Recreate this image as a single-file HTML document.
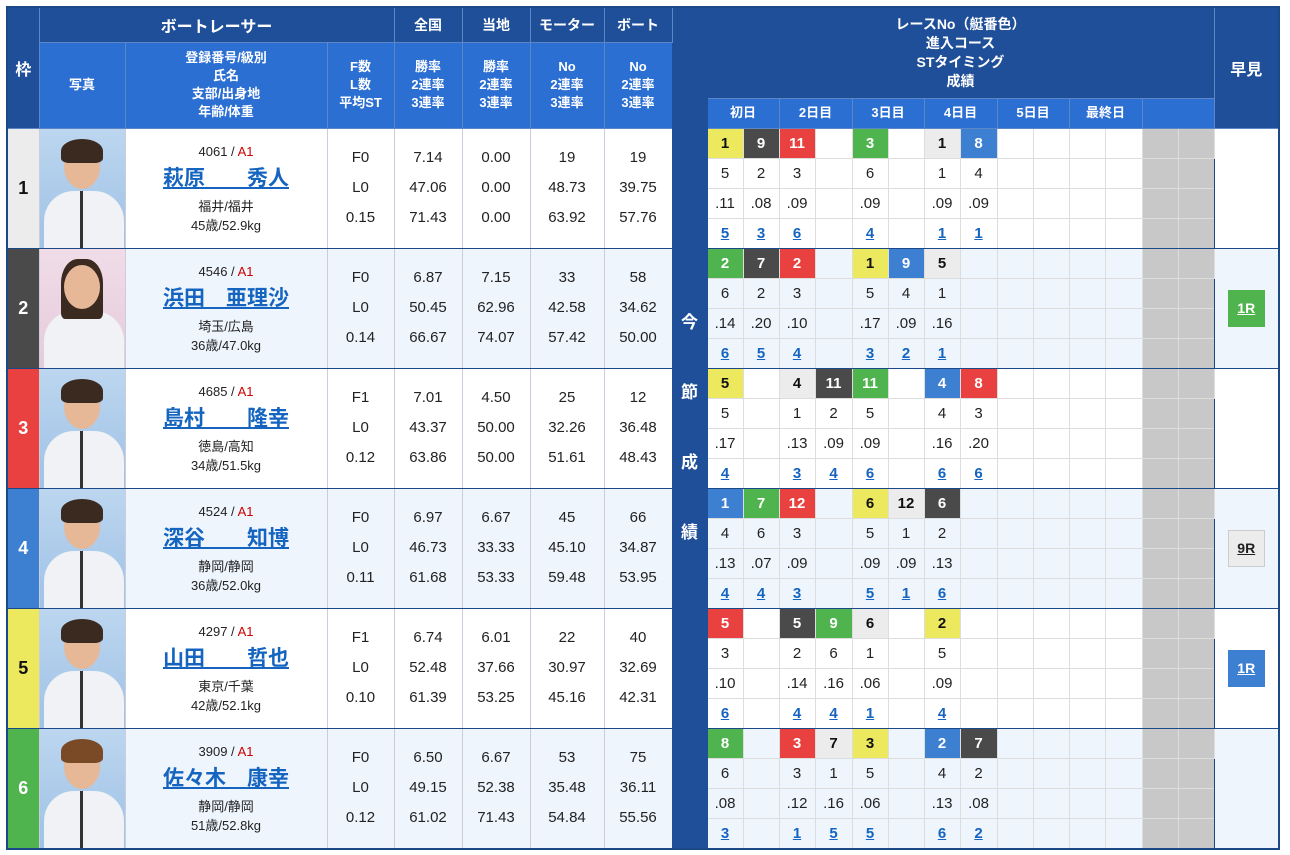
<!DOCTYPE html>
<html><head><meta charset="utf-8">
<style>
body{margin:0;background:#fff;width:1290px;height:855px;overflow:hidden;font-family:"Liberation Sans","Noto Sans CJK JP",sans-serif;}
table{position:absolute;left:6px;top:6px;border-collapse:collapse;table-layout:fixed;border:2px solid #1b4886;}
td{padding:0;text-align:center;vertical-align:middle;font-size:15px;color:#222;overflow:hidden;}
.h1{background:#1f4f98;color:#fff;font-weight:bold;font-size:16px;border:1px solid #5d86c6;}
.h2{background:#2c6fd3;color:#fff;font-weight:bold;font-size:13px;line-height:18px;border:1px solid #5d86c6;}
.sep{background:#1f4f98;color:#fff;font-weight:bold;font-size:17px;line-height:70px;padding-top:280px;vertical-align:top;border:1px solid #1f4f98;}
.f{font-size:18px;font-weight:bold;border-bottom:1px solid #1b4886;}
.ph{border-bottom:1px solid #1b4886;border-left:1px solid #ccd;}
.nm{font-size:13px;line-height:19px;border-bottom:1px solid #1b4886;border-left:1px solid #ccd;}
.nm a{display:block;font-size:21px;font-weight:bold;color:#1565c0;text-decoration:underline;line-height:32px;margin:2px 0;}
.cl{color:#c00;}
.v{line-height:30px;border-bottom:1px solid #1b4886;border-left:1px solid #ccd;}
.r td.c{border:1px solid #ddd;height:29px;}
.r td.g{background:#c8c8c8;border:1px solid #ddd;}
.e td{background:#eef5fd;}
.e td.g{background:#c8c8c8;}
.last td.c,.last td.g{border-bottom:1px solid #1b4886;}
td.hy{border-left:1px solid #1b4886;border-bottom:1px solid #1b4886;}
.k1{background:#ececec!important;color:#111;font-weight:bold;}
.k2{background:#4a4a4a!important;color:#fff;font-weight:bold;}
.k3{background:#e8413f!important;color:#fff;font-weight:bold;}
.k4{background:#3d7fd1!important;color:#fff;font-weight:bold;}
.k5{background:#ece95e!important;color:#111;font-weight:bold;}
.k6{background:#4fb44e!important;color:#fff;font-weight:bold;}
.u{color:#1565c0;font-weight:bold;text-decoration:underline;}
.badge{display:inline-block;width:37px;height:37px;line-height:37px;font-size:14px;font-weight:bold;text-decoration:underline;color:#fff;}
.photo{position:relative;width:85px;height:119px;background:linear-gradient(#bcd6ef,#9fc2e6);overflow:hidden;}
.photo .hd{position:absolute;left:24px;top:16px;width:36px;height:44px;border-radius:50%;background:#e6b898;}
.photo .hr{position:absolute;left:21px;top:10px;width:42px;height:24px;border-radius:50% 50% 20% 20%;background:#3a2a20;}
.photo .bd{position:absolute;left:4px;top:62px;width:80px;height:70px;border-radius:30px 30px 0 0;background:#f0f2f6;}
.photo .zp{position:absolute;left:40px;top:62px;width:3px;height:60px;background:#333;}
</style></head><body>
<table>
<colgroup>
<col style="width:32px"><col style="width:86px"><col style="width:202px"><col style="width:67px"><col style="width:68px"><col style="width:68px"><col style="width:74px"><col style="width:68px">
<col style="width:35px">
<col style="width:36px"><col style="width:36px"><col style="width:36px"><col style="width:37px"><col style="width:36px"><col style="width:36px"><col style="width:36px"><col style="width:37px"><col style="width:36px"><col style="width:36px"><col style="width:36px"><col style="width:37px"><col style="width:36px"><col style="width:36px">
<col style="width:65px">
</colgroup>
<tr style="height:35px">
<td class="h1" rowspan="3">枠</td>
<td class="h1" colspan="3">ボートレーサー</td>
<td class="h1" style="font-size:14px">全国</td><td class="h1" style="font-size:14px">当地</td><td class="h1" style="font-size:14px">モーター</td><td class="h1" style="font-size:14px">ボート</td>
<td class="sep" rowspan="27">今<br>節<br>成<br>績</td>
<td class="h1" colspan="14" rowspan="2" style="font-size:14px;line-height:19px">レースNo（艇番色）<br>進入コース<br>STタイミング<br>成績</td>
<td class="h1" rowspan="3">早見</td>
</tr>
<tr style="height:56px">
<td class="h2" rowspan="2">写真</td>
<td class="h2" rowspan="2">登録番号/級別<br>氏名<br>支部/出身地<br>年齢/体重</td>
<td class="h2" rowspan="2">F数<br>L数<br>平均ST</td>
<td class="h2" rowspan="2">勝率<br>2連率<br>3連率</td>
<td class="h2" rowspan="2">勝率<br>2連率<br>3連率</td>
<td class="h2" rowspan="2">No<br>2連率<br>3連率</td>
<td class="h2" rowspan="2">No<br>2連率<br>3連率</td>
</tr>
<tr style="height:30px">
<td class="h2" colspan="2">初日</td><td class="h2" colspan="2">2日目</td><td class="h2" colspan="2">3日目</td><td class="h2" colspan="2">4日目</td><td class="h2" colspan="2">5日目</td><td class="h2" colspan="2">最終日</td><td class="h2" colspan="2"></td>
</tr>

<tr class="r" style="height:30px">
<td class="f k1" rowspan="4">1</td>
<td class="ph" rowspan="4"><div class="photo"><div class="bd"></div><div class="zp"></div><div class="hd"></div><div class="hr"></div></div></td>
<td class="nm" rowspan="4">4061 / <span class="cl">A1</span><a>萩原　　秀人</a>福井/福井<br>45歳/52.9kg</td>
<td class="v" rowspan="4">F0<br>L0<br>0.15</td>
<td class="v" rowspan="4">7.14<br>47.06<br>71.43</td>
<td class="v" rowspan="4">0.00<br>0.00<br>0.00</td>
<td class="v" rowspan="4">19<br>48.73<br>63.92</td>
<td class="v" rowspan="4">19<br>39.75<br>57.76</td>
<td class="c k5">1</td><td class="c k2">9</td><td class="c k3">11</td><td class="c"></td><td class="c k6">3</td><td class="c"></td><td class="c k1">1</td><td class="c k4">8</td><td class="c"></td><td class="c"></td><td class="c"></td><td class="c"></td><td class="g"></td><td class="g"></td>
<td class="hy" rowspan="4"></td>
</tr>
<tr class="r"><td class="c">5</td><td class="c">2</td><td class="c">3</td><td class="c"></td><td class="c">6</td><td class="c"></td><td class="c">1</td><td class="c">4</td><td class="c"></td><td class="c"></td><td class="c"></td><td class="c"></td><td class="g"></td><td class="g"></td></tr>
<tr class="r"><td class="c">.11</td><td class="c">.08</td><td class="c">.09</td><td class="c"></td><td class="c">.09</td><td class="c"></td><td class="c">.09</td><td class="c">.09</td><td class="c"></td><td class="c"></td><td class="c"></td><td class="c"></td><td class="g"></td><td class="g"></td></tr>
<tr class="r last"><td class="c u">5</td><td class="c u">3</td><td class="c u">6</td><td class="c"></td><td class="c u">4</td><td class="c"></td><td class="c u">1</td><td class="c u">1</td><td class="c"></td><td class="c"></td><td class="c"></td><td class="c"></td><td class="g"></td><td class="g"></td></tr>

<tr class="r e" style="height:30px">
<td class="f k2" rowspan="4">2</td>
<td class="ph" rowspan="4"><div class="photo" style="background:linear-gradient(#f0dde8,#e6cadb)"><div class="bd"></div><div class="hd"></div><div class="hr" style="height:60px;border-radius:40% 40% 10% 10%;z-index:0"></div><div class="hd" style="z-index:1"></div></div></td>
<td class="nm" rowspan="4">4546 / <span class="cl">A1</span><a>浜田　亜理沙</a>埼玉/広島<br>36歳/47.0kg</td>
<td class="v" rowspan="4">F0<br>L0<br>0.14</td>
<td class="v" rowspan="4">6.87<br>50.45<br>66.67</td>
<td class="v" rowspan="4">7.15<br>62.96<br>74.07</td>
<td class="v" rowspan="4">33<br>42.58<br>57.42</td>
<td class="v" rowspan="4">58<br>34.62<br>50.00</td>
<td class="c k6">2</td><td class="c k2">7</td><td class="c k3">2</td><td class="c"></td><td class="c k5">1</td><td class="c k4">9</td><td class="c k1">5</td><td class="c"></td><td class="c"></td><td class="c"></td><td class="c"></td><td class="c"></td><td class="g"></td><td class="g"></td>
<td class="hy" rowspan="4"><span class="badge" style="background:#4fb44e">1R</span></td>
</tr>
<tr class="r e"><td class="c">6</td><td class="c">2</td><td class="c">3</td><td class="c"></td><td class="c">5</td><td class="c">4</td><td class="c">1</td><td class="c"></td><td class="c"></td><td class="c"></td><td class="c"></td><td class="c"></td><td class="g"></td><td class="g"></td></tr>
<tr class="r e"><td class="c">.14</td><td class="c">.20</td><td class="c">.10</td><td class="c"></td><td class="c">.17</td><td class="c">.09</td><td class="c">.16</td><td class="c"></td><td class="c"></td><td class="c"></td><td class="c"></td><td class="c"></td><td class="g"></td><td class="g"></td></tr>
<tr class="r e last"><td class="c u">6</td><td class="c u">5</td><td class="c u">4</td><td class="c"></td><td class="c u">3</td><td class="c u">2</td><td class="c u">1</td><td class="c"></td><td class="c"></td><td class="c"></td><td class="c"></td><td class="c"></td><td class="g"></td><td class="g"></td></tr>

<tr class="r" style="height:30px">
<td class="f k3" rowspan="4">3</td>
<td class="ph" rowspan="4"><div class="photo"><div class="bd"></div><div class="zp"></div><div class="hd"></div><div class="hr"></div></div></td>
<td class="nm" rowspan="4">4685 / <span class="cl">A1</span><a>島村　　隆幸</a>徳島/高知<br>34歳/51.5kg</td>
<td class="v" rowspan="4">F1<br>L0<br>0.12</td>
<td class="v" rowspan="4">7.01<br>43.37<br>63.86</td>
<td class="v" rowspan="4">4.50<br>50.00<br>50.00</td>
<td class="v" rowspan="4">25<br>32.26<br>51.61</td>
<td class="v" rowspan="4">12<br>36.48<br>48.43</td>
<td class="c k5">5</td><td class="c"></td><td class="c k1">4</td><td class="c k2">11</td><td class="c k6">11</td><td class="c"></td><td class="c k4">4</td><td class="c k3">8</td><td class="c"></td><td class="c"></td><td class="c"></td><td class="c"></td><td class="g"></td><td class="g"></td>
<td class="hy" rowspan="4"></td>
</tr>
<tr class="r"><td class="c">5</td><td class="c"></td><td class="c">1</td><td class="c">2</td><td class="c">5</td><td class="c"></td><td class="c">4</td><td class="c">3</td><td class="c"></td><td class="c"></td><td class="c"></td><td class="c"></td><td class="g"></td><td class="g"></td></tr>
<tr class="r"><td class="c">.17</td><td class="c"></td><td class="c">.13</td><td class="c">.09</td><td class="c">.09</td><td class="c"></td><td class="c">.16</td><td class="c">.20</td><td class="c"></td><td class="c"></td><td class="c"></td><td class="c"></td><td class="g"></td><td class="g"></td></tr>
<tr class="r last"><td class="c u">4</td><td class="c"></td><td class="c u">3</td><td class="c u">4</td><td class="c u">6</td><td class="c"></td><td class="c u">6</td><td class="c u">6</td><td class="c"></td><td class="c"></td><td class="c"></td><td class="c"></td><td class="g"></td><td class="g"></td></tr>

<tr class="r e" style="height:30px">
<td class="f k4" rowspan="4">4</td>
<td class="ph" rowspan="4"><div class="photo"><div class="bd"></div><div class="zp"></div><div class="hd"></div><div class="hr"></div></div></td>
<td class="nm" rowspan="4">4524 / <span class="cl">A1</span><a>深谷　　知博</a>静岡/静岡<br>36歳/52.0kg</td>
<td class="v" rowspan="4">F0<br>L0<br>0.11</td>
<td class="v" rowspan="4">6.97<br>46.73<br>61.68</td>
<td class="v" rowspan="4">6.67<br>33.33<br>53.33</td>
<td class="v" rowspan="4">45<br>45.10<br>59.48</td>
<td class="v" rowspan="4">66<br>34.87<br>53.95</td>
<td class="c k4">1</td><td class="c k6">7</td><td class="c k3">12</td><td class="c"></td><td class="c k5">6</td><td class="c k1">12</td><td class="c k2">6</td><td class="c"></td><td class="c"></td><td class="c"></td><td class="c"></td><td class="c"></td><td class="g"></td><td class="g"></td>
<td class="hy" rowspan="4"><span class="badge" style="background:#ececec;color:#222;border:1px solid #ccc;width:35px;height:35px;line-height:35px">9R</span></td>
</tr>
<tr class="r e"><td class="c">4</td><td class="c">6</td><td class="c">3</td><td class="c"></td><td class="c">5</td><td class="c">1</td><td class="c">2</td><td class="c"></td><td class="c"></td><td class="c"></td><td class="c"></td><td class="c"></td><td class="g"></td><td class="g"></td></tr>
<tr class="r e"><td class="c">.13</td><td class="c">.07</td><td class="c">.09</td><td class="c"></td><td class="c">.09</td><td class="c">.09</td><td class="c">.13</td><td class="c"></td><td class="c"></td><td class="c"></td><td class="c"></td><td class="c"></td><td class="g"></td><td class="g"></td></tr>
<tr class="r e last"><td class="c u">4</td><td class="c u">4</td><td class="c u">3</td><td class="c"></td><td class="c u">5</td><td class="c u">1</td><td class="c u">6</td><td class="c"></td><td class="c"></td><td class="c"></td><td class="c"></td><td class="c"></td><td class="g"></td><td class="g"></td></tr>

<tr class="r" style="height:30px">
<td class="f k5" rowspan="4">5</td>
<td class="ph" rowspan="4"><div class="photo"><div class="bd"></div><div class="zp"></div><div class="hd"></div><div class="hr"></div></div></td>
<td class="nm" rowspan="4">4297 / <span class="cl">A1</span><a>山田　　哲也</a>東京/千葉<br>42歳/52.1kg</td>
<td class="v" rowspan="4">F1<br>L0<br>0.10</td>
<td class="v" rowspan="4">6.74<br>52.48<br>61.39</td>
<td class="v" rowspan="4">6.01<br>37.66<br>53.25</td>
<td class="v" rowspan="4">22<br>30.97<br>45.16</td>
<td class="v" rowspan="4">40<br>32.69<br>42.31</td>
<td class="c k3">5</td><td class="c"></td><td class="c k2">5</td><td class="c k6">9</td><td class="c k1">6</td><td class="c"></td><td class="c k5">2</td><td class="c"></td><td class="c"></td><td class="c"></td><td class="c"></td><td class="c"></td><td class="g"></td><td class="g"></td>
<td class="hy" rowspan="4"><span class="badge" style="background:#3d7fd1">1R</span></td>
</tr>
<tr class="r"><td class="c">3</td><td class="c"></td><td class="c">2</td><td class="c">6</td><td class="c">1</td><td class="c"></td><td class="c">5</td><td class="c"></td><td class="c"></td><td class="c"></td><td class="c"></td><td class="c"></td><td class="g"></td><td class="g"></td></tr>
<tr class="r"><td class="c">.10</td><td class="c"></td><td class="c">.14</td><td class="c">.16</td><td class="c">.06</td><td class="c"></td><td class="c">.09</td><td class="c"></td><td class="c"></td><td class="c"></td><td class="c"></td><td class="c"></td><td class="g"></td><td class="g"></td></tr>
<tr class="r last"><td class="c u">6</td><td class="c"></td><td class="c u">4</td><td class="c u">4</td><td class="c u">1</td><td class="c"></td><td class="c u">4</td><td class="c"></td><td class="c"></td><td class="c"></td><td class="c"></td><td class="c"></td><td class="g"></td><td class="g"></td></tr>

<tr class="r e" style="height:30px">
<td class="f k6" rowspan="4">6</td>
<td class="ph" rowspan="4"><div class="photo"><div class="bd"></div><div class="zp"></div><div class="hd"></div><div class="hr" style="background:#7a4a26"></div></div></td>
<td class="nm" rowspan="4">3909 / <span class="cl">A1</span><a>佐々木　康幸</a>静岡/静岡<br>51歳/52.8kg</td>
<td class="v" rowspan="4">F0<br>L0<br>0.12</td>
<td class="v" rowspan="4">6.50<br>49.15<br>61.02</td>
<td class="v" rowspan="4">6.67<br>52.38<br>71.43</td>
<td class="v" rowspan="4">53<br>35.48<br>54.84</td>
<td class="v" rowspan="4">75<br>36.11<br>55.56</td>
<td class="c k6">8</td><td class="c"></td><td class="c k3">3</td><td class="c k1">7</td><td class="c k5">3</td><td class="c"></td><td class="c k4">2</td><td class="c k2">7</td><td class="c"></td><td class="c"></td><td class="c"></td><td class="c"></td><td class="g"></td><td class="g"></td>
<td class="hy" rowspan="4"></td>
</tr>
<tr class="r e"><td class="c">6</td><td class="c"></td><td class="c">3</td><td class="c">1</td><td class="c">5</td><td class="c"></td><td class="c">4</td><td class="c">2</td><td class="c"></td><td class="c"></td><td class="c"></td><td class="c"></td><td class="g"></td><td class="g"></td></tr>
<tr class="r e"><td class="c">.08</td><td class="c"></td><td class="c">.12</td><td class="c">.16</td><td class="c">.06</td><td class="c"></td><td class="c">.13</td><td class="c">.08</td><td class="c"></td><td class="c"></td><td class="c"></td><td class="c"></td><td class="g"></td><td class="g"></td></tr>
<tr class="r e last"><td class="c u">3</td><td class="c"></td><td class="c u">1</td><td class="c u">5</td><td class="c u">5</td><td class="c"></td><td class="c u">6</td><td class="c u">2</td><td class="c"></td><td class="c"></td><td class="c"></td><td class="c"></td><td class="g"></td><td class="g"></td></tr>
</table>
</body></html>
